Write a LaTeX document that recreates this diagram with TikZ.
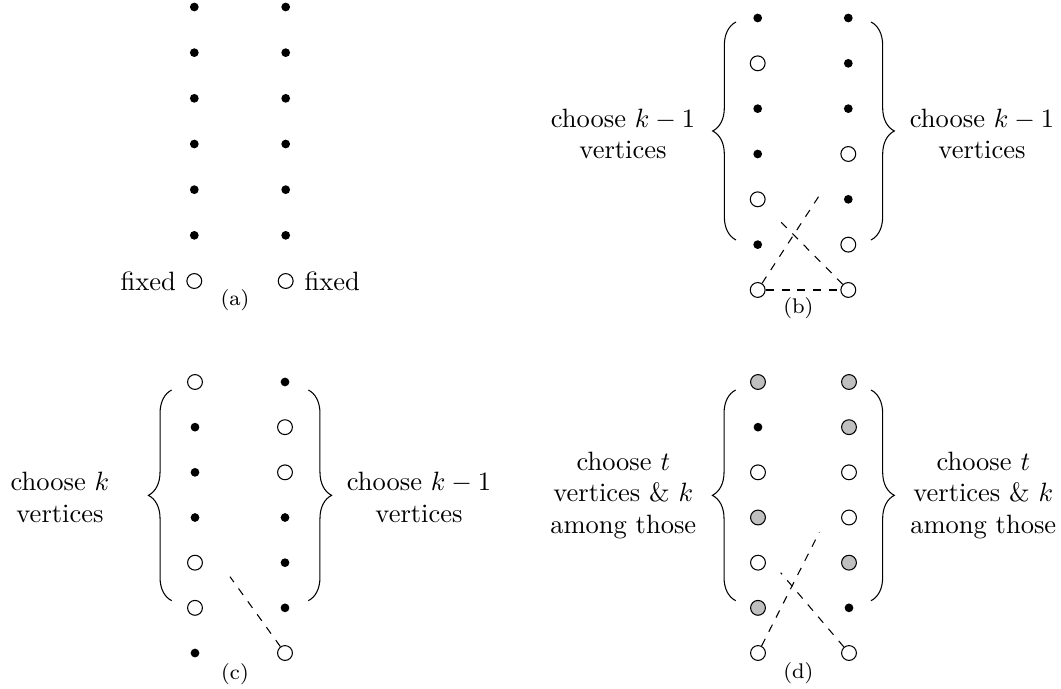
\documentclass[tikz,border=0pt]{standalone}
\usetikzlibrary{decorations.pathreplacing}
\begin{document}
\begin{tikzpicture}[x=0.37736pt,y=-0.37736pt,
  dotv/.style={circle,fill=black,inner sep=0pt,minimum size=3.3pt},
  openv/.style={circle,draw,fill=white,inner sep=0pt,minimum size=5.6pt},
  grayv/.style={circle,draw,fill=gray!50,inner sep=0pt,minimum size=5.6pt},
  bracedeco/.style={decorate,decoration={brace,amplitude=8.8pt}},
  dashline/.style={dashed},
  lbl/.style={align=center,inner sep=0pt},
  captext/.style={font=\footnotesize,inner sep=0pt}]
\useasboundingbox (0,0) rectangle (1061,689);
% (a)
\foreach \s [count=\i] in {dotv,dotv,dotv,dotv,dotv,dotv,openv}
  \node[\s] (aL\i) at (194.3,{7+(\i-1)*45.67}) {};
\foreach \s [count=\i] in {dotv,dotv,dotv,dotv,dotv,dotv,openv}
  \node[\s] (aR\i) at (285.7,{7+(\i-1)*45.67}) {};
\node[anchor=east,inner sep=0pt] (afixL) at (176.5,281) {fixed};
\node[anchor=west,inner sep=0pt] (afixR) at (304,281) {fixed};
\node[captext] (acap) at (235,300) {(a)};
% (b)
\foreach \s [count=\i] in {dotv,openv,dotv,dotv,openv,dotv,openv}
  \node[\s] (bL\i) at (757.7,{18+(\i-1)*45.33}) {};
\foreach \s [count=\i] in {dotv,dotv,dotv,openv,dotv,openv,openv}
  \node[\s] (bR\i) at (848.3,{18+(\i-1)*45.33}) {};
\draw[bracedeco] (736,240) -- (736,22);
\draw[bracedeco] (871,22) -- (871,240);
\node[lbl] (btL) at (623,134) {choose $k-1$\\vertices};
\node[lbl] (btR) at (982,134) {choose $k-1$\\vertices};
\coordinate (bE1) at (819,196);
\coordinate (bE2) at (780,221);
\draw[dashline] (bL7) -- (bE1);
\draw[dashline] (bR7) -- (bE2);
\draw[dashline] (bL7) -- (bR7);
\node[captext] (bcap) at (798.3,308) {(b)};
% (c)
\foreach \s [count=\i] in {openv,dotv,dotv,dotv,openv,openv,dotv}
  \node[\s] (cL\i) at (195,{382+(\i-1)*45.17}) {};
\foreach \s [count=\i] in {dotv,openv,openv,dotv,dotv,dotv,openv}
  \node[\s] (cR\i) at (285,{382+(\i-1)*45.17}) {};
\draw[bracedeco] (171.7,600.7) -- (171.7,390);
\draw[bracedeco] (308.3,390) -- (308.3,600.7);
\node[lbl] (ctL) at (60,497.5) {choose $k$\\vertices};
\node[lbl] (ctR) at (419,497.5) {choose $k-1$\\vertices};
\coordinate (cE) at (230,576.7);
\draw[dashline] (cR7) -- (cE);
\node[captext] (ccap) at (235,674) {(c)};
% (d)
\foreach \s [count=\i] in {grayv,dotv,openv,grayv,openv,grayv,openv}
  \node[\s] (dL\i) at (758,{382+(\i-1)*45.17}) {};
\foreach \s [count=\i] in {grayv,grayv,openv,openv,grayv,dotv,openv}
  \node[\s] (dR\i) at (849,{382+(\i-1)*45.17}) {};
\draw[bracedeco] (735.7,600.7) -- (735.7,390);
\draw[bracedeco] (871,390) -- (871,600.7);
\node[lbl] (dtL) at (623.3,495.5) {choose $t$\\vertices \& $k$\\among those};
\node[lbl] (dtR) at (983.3,495.5) {choose $t$\\vertices \& $k$\\among those};
\coordinate (dE1) at (819.3,532.3);
\coordinate (dE2) at (780.7,572.7);
\draw[dashline] (dL7) -- (dE1);
\draw[dashline] (dR7) -- (dE2);
\node[captext] (dcap) at (798.3,673) {(d)};
\end{tikzpicture}
\end{document}
